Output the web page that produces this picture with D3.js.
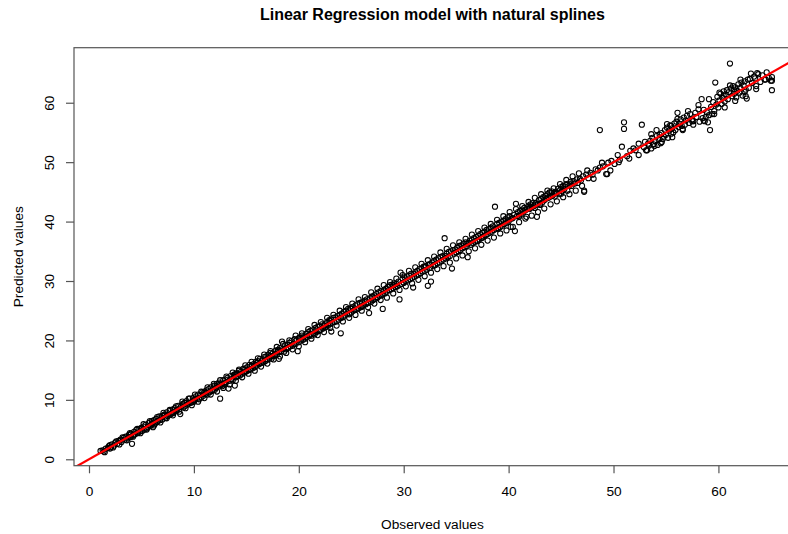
<!DOCTYPE html>
<html>
<head>
<meta charset="utf-8">
<script src="https://cdn.jsdelivr.net/npm/d3@7"></script>
<style>
  body { margin: 0; background: #ffffff; }
  text { font-family: "Liberation Sans", Arial, Helvetica, sans-serif; fill: #000; }
</style>
</head>
<body>
<div id="chart"></div>
<script>
var observed = [
  1.1, 1.3, 1.4, 1.6, 1.8, 1.9, 2.1, 2.2, 2.4, 2.5,
  2.7, 2.8, 3.0, 3.1, 3.3, 3.4, 3.5, 3.7, 3.8, 3.9,
  4.0, 4.1, 4.2, 4.3, 4.4, 4.5, 4.6, 4.7, 4.8, 4.9,
  5.0, 5.1, 5.2, 5.3, 5.4, 5.5, 5.6, 5.7, 5.8, 5.9,
  6.0, 6.1, 6.1, 6.2, 6.3, 6.4, 6.5, 6.6, 6.7, 6.8,
  6.9, 7.0, 7.1, 7.2, 7.3, 7.4, 7.5, 7.6, 7.7, 7.8,
  7.9, 8.0, 8.1, 8.2, 8.3, 8.4, 8.5, 8.6, 8.7, 8.8,
  8.9, 9.0, 9.1, 9.2, 9.3, 9.4, 9.5, 9.6, 9.7, 9.8,
  9.9, 10.0, 10.1, 10.2, 10.3, 10.4, 10.5, 10.6, 10.7, 10.8,
  10.9, 11.0, 11.1, 11.2, 11.3, 11.4, 11.5, 11.6, 11.7, 11.8,
  11.9, 12.0, 12.1, 12.2, 12.3, 12.4, 12.5, 12.6, 12.7, 12.8,
  12.9, 13.0, 13.1, 13.2, 13.3, 13.4, 13.5, 13.6, 13.7, 13.8,
  13.9, 13.9, 14.0, 14.1, 14.2, 14.3, 14.4, 14.5, 14.6, 14.7,
  14.8, 14.9, 15.0, 15.1, 15.2, 15.3, 15.4, 15.5, 15.6, 15.7,
  15.8, 15.9, 16.0, 16.1, 16.2, 16.3, 16.4, 16.5, 16.6, 16.7,
  16.8, 16.9, 17.0, 17.1, 17.2, 17.3, 17.4, 17.5, 17.6, 17.7,
  17.8, 17.9, 18.0, 18.1, 18.1, 18.2, 18.3, 18.4, 18.5, 18.6,
  18.7, 18.8, 18.9, 19.0, 19.1, 19.2, 19.3, 19.4, 19.5, 19.6,
  19.7, 19.8, 19.9, 20.0, 20.0, 20.1, 20.2, 20.3, 20.4, 20.5,
  20.6, 20.7, 20.8, 20.9, 21.0, 21.1, 21.2, 21.3, 21.4, 21.5,
  21.6, 21.7, 21.8, 21.9, 22.0, 22.1, 22.2, 22.3, 22.4, 22.5,
  22.6, 22.7, 22.8, 22.9, 23.0, 23.1, 23.1, 23.2, 23.3, 23.4,
  23.5, 23.6, 23.7, 23.8, 23.9, 24.0, 24.0, 24.1, 24.2, 24.3,
  24.4, 24.5, 24.6, 24.7, 24.8, 24.9, 25.0, 25.1, 25.2, 25.3,
  25.4, 25.5, 25.6, 25.7, 25.8, 25.9, 26.0, 26.1, 26.2, 26.3,
  26.4, 26.5, 26.6, 26.7, 26.8, 26.9, 27.0, 27.1, 27.2, 27.3,
  27.4, 27.5, 27.6, 27.7, 27.8, 27.9, 28.0, 28.1, 28.2, 28.3,
  28.4, 28.5, 28.6, 28.7, 28.8, 28.9, 29.0, 29.1, 29.2, 29.3,
  29.4, 29.5, 29.6, 29.7, 29.8, 29.9, 30.0, 30.1, 30.2, 30.3,
  30.4, 30.5, 30.6, 30.7, 30.8, 30.9, 31.0, 31.1, 31.2, 31.3,
  31.4, 31.5, 31.6, 31.7, 31.8, 31.9, 32.0, 32.1, 32.2, 32.3,
  32.4, 32.5, 32.6, 32.7, 32.8, 32.9, 33.0, 33.1, 33.2, 33.3,
  33.4, 33.5, 33.6, 33.7, 33.8, 33.9, 34.0, 34.1, 34.2, 34.3,
  34.4, 34.5, 34.6, 34.7, 34.8, 34.9, 35.0, 35.1, 35.2, 35.3,
  35.4, 35.5, 35.6, 35.7, 35.8, 35.9, 36.0, 36.1, 36.2, 36.3,
  36.4, 36.5, 36.6, 36.7, 36.8, 36.9, 37.0, 37.1, 37.2, 37.3,
  37.4, 37.5, 37.6, 37.7, 37.8, 37.9, 38.0, 38.1, 38.2, 38.3,
  38.4, 38.5, 38.6, 38.7, 38.8, 38.9, 39.0, 39.1, 39.2, 39.3,
  39.4, 39.5, 39.6, 39.7, 39.8, 39.9, 40.0, 40.1, 40.2, 40.3,
  40.4, 40.5, 40.6, 40.7, 40.8, 40.9, 41.0, 41.1, 41.2, 41.3,
  41.4, 41.5, 41.6, 41.7, 41.8, 41.9, 42.0, 42.1, 42.2, 42.3,
  42.4, 42.5, 42.6, 42.7, 42.8, 42.9, 43.0, 43.1, 43.2, 43.3,
  43.4, 43.5, 43.6, 43.7, 43.8, 43.9, 44.0, 44.1, 44.2, 44.3,
  44.4, 44.5, 44.6, 44.7, 44.8, 44.9, 45.0, 45.1, 45.2, 45.3,
  45.4, 45.5, 45.6, 45.8, 45.9, 46.0, 46.2, 46.3, 46.5, 46.6,
  46.8, 46.9, 47.1, 47.2, 47.2, 47.4, 47.6, 47.8, 48.0, 48.3,
  48.5, 48.7, 48.7, 49.0, 49.3, 49.4, 49.5, 49.8, 50.1, 50.4,
  50.6, 50.8, 51.0, 51.0, 51.3, 51.6, 51.9, 52.1, 52.4, 52.7,
  52.9, 53.0, 53.2, 53.3, 53.4, 53.5, 53.6, 53.7, 53.8, 53.9,
  54.0, 54.1, 54.2, 54.3, 54.4, 54.5, 54.6, 54.7, 54.8, 54.9,
  55.0, 55.1, 55.2, 55.3, 55.4, 55.5, 55.6, 55.7, 55.8, 55.9,
  56.0, 56.1, 56.2, 56.3, 56.4, 56.5, 56.6, 56.7, 56.8, 56.9,
  57.0, 57.2, 57.3, 57.5, 57.6, 57.8, 57.9, 58.1, 58.2, 58.4,
  58.5, 58.6, 58.7, 58.8, 58.9, 59.0, 59.1, 59.2, 59.3, 59.4,
  59.5, 59.6, 59.7, 59.8, 59.9, 60.0, 60.1, 60.2, 60.3, 60.4,
  60.5, 60.6, 60.7, 60.8, 60.9, 61.0, 61.1, 61.2, 61.3, 61.4,
  61.5, 61.6, 61.7, 61.8, 61.9, 62.0, 62.1, 62.2, 62.3, 62.4,
  62.5, 62.6, 62.7, 62.8, 62.9, 63.0, 63.2, 63.4, 63.6, 63.7,
  63.8, 64.0, 64.2, 64.4, 64.6, 64.8, 65.0, 65.1, 65.1, 65.1,
  1.5, 2.0, 2.3, 2.6, 2.9, 3.2, 3.6, 3.9, 4.2, 4.6,
  4.9, 5.2, 5.5, 5.8, 6.2, 6.5, 6.8, 7.1, 7.4, 7.7,
  8.0, 8.3, 8.6, 8.9, 9.2, 9.5, 9.8, 10.1, 10.4, 10.7,
  11.0, 11.3, 11.6, 11.9, 12.2, 12.5, 12.8, 13.1, 13.4, 13.7,
  14.0, 14.3, 14.6, 14.9, 15.2, 15.5, 15.8, 16.1, 16.4, 16.7,
  17.0, 17.3, 17.6, 17.9, 18.2, 18.5, 18.8, 19.1, 19.4, 19.7,
  20.0, 20.3, 20.6, 20.9, 21.2, 21.5, 21.8, 22.1, 22.4, 22.7,
  23.0, 23.3, 23.6, 23.9, 24.2, 24.5, 24.8, 25.1, 25.4, 25.7,
  26.0, 26.3, 26.6, 26.9, 27.2, 27.5, 27.8, 28.1, 28.4, 28.7,
  29.0, 29.3, 29.6, 29.9, 30.2, 30.5, 30.8, 31.1, 31.4, 31.7,
  32.0, 32.3, 32.6, 32.9, 33.2, 33.5, 33.8, 34.1, 34.4, 34.7,
  35.0, 35.3, 35.6, 35.9, 36.2, 36.5, 36.8, 37.1, 37.4, 37.7,
  38.0, 38.3, 38.6, 38.9, 39.2, 39.5, 39.8, 40.1, 40.4, 40.7,
  41.0, 41.3, 41.6, 41.9, 42.2, 42.5, 42.8, 43.1, 43.4, 43.7,
  44.0, 44.3, 44.6, 44.9, 45.2, 45.5, 45.8, 46.1, 46.4, 46.7,
  47.0, 47.5, 48.1, 48.9, 49.7, 50.5, 51.5, 52.4, 53.1, 53.6,
  54.1, 54.6, 55.1, 55.6, 56.1, 56.6, 57.1, 57.6, 58.1, 58.6,
  59.1, 59.6, 60.1, 60.6, 61.1, 61.6, 62.1, 62.6, 63.1, 63.6,
  2.0, 3.0, 4.0, 5.0, 6.0, 7.0, 8.0, 9.0, 10.0, 11.0,
  12.0, 13.0, 14.0, 15.0, 16.0, 17.0, 18.0, 19.0, 20.0, 21.0,
  22.0, 23.0, 24.0, 25.0, 26.0, 27.0, 28.0, 29.0, 30.0, 31.0,
  32.0, 33.0, 34.0, 35.0, 36.0, 37.0, 38.0, 39.0, 40.0, 41.0,
  42.0, 43.0, 44.0, 45.0, 46.0, 12.5, 17.5, 22.5, 27.5, 32.5,
  37.5, 42.5, 44.5, 55.5, 57.5, 60.5, 61.5, 62.5, 63.5, 64.5
];

var predicted = [
  1.4, 1.5, 1.3, 1.8, 1.9, 2.2, 2.0, 2.5, 2.3, 2.8,
  2.6, 3.1, 3.2, 2.9, 3.6, 3.3, 3.8, 3.5, 4.1, 3.7,
  4.3, 2.6, 4.0, 4.6, 4.2, 4.9, 4.4, 4.5, 5.1, 4.7,
  5.3, 4.8, 5.5, 5.0, 5.8, 5.2, 5.4, 6.1, 5.6, 5.7,
  6.4, 5.4, 6.1, 6.6, 6.0, 6.8, 6.3, 6.5, 7.2, 6.6,
  7.1, 6.7, 7.4, 7.5, 7.0, 7.9, 7.3, 7.4, 8.1, 7.6,
  7.7, 8.4, 7.9, 8.6, 8.1, 8.3, 9.0, 8.4, 7.6, 8.9,
  9.3, 8.7, 9.5, 9.0, 9.8, 9.2, 9.4, 10.2, 9.5, 9.6,
  10.3, 9.7, 10.0, 10.6, 10.2, 10.9, 10.1, 10.8, 10.4, 11.3,
  10.7, 11.4, 11.0, 11.6, 10.9, 11.8, 11.3, 12.1, 11.5, 11.6,
  12.4, 11.7, 12.0, 12.7, 12.2, 12.9, 10.2, 12.5, 12.3, 13.3,
  12.6, 13.4, 13.0, 13.7, 11.9, 13.2, 14.0, 13.5, 13.3, 14.2,
  12.4, 14.3, 13.8, 14.5, 14.0, 14.9, 14.1, 14.7, 14.4, 15.2,
  14.6, 15.3, 14.8, 15.5, 15.0, 15.9, 15.1, 15.7, 15.3, 16.0,
  15.5, 16.4, 15.8, 16.5, 16.0, 16.9, 16.2, 16.6, 16.3, 17.2,
  16.5, 17.3, 16.8, 17.6, 17.1, 17.9, 16.9, 17.8, 17.4, 17.5,
  18.3, 17.6, 18.4, 16.9, 18.0, 18.7, 18.2, 19.8, 18.6, 18.1,
  19.2, 18.5, 19.3, 18.8, 19.6, 19.0, 19.9, 19.1, 19.4, 20.2,
  19.4, 20.1, 18.2, 20.4, 19.7, 20.5, 20.0, 20.8, 20.1, 20.7,
  20.3, 21.1, 20.6, 21.4, 20.9, 21.6, 20.8, 21.7, 21.2, 21.0,
  22.1, 21.4, 22.3, 21.6, 22.4, 21.8, 22.7, 22.0, 22.5, 22.2,
  22.3, 23.1, 22.5, 23.4, 22.8, 21.5, 23.5, 23.0, 23.8, 23.1,
  23.9, 23.2, 24.1, 23.5, 24.3, 21.2, 23.8, 24.5, 23.9, 24.8,
  24.2, 25.0, 24.5, 25.3, 24.4, 25.4, 24.7, 25.6, 25.0, 25.1,
  25.9, 25.2, 26.1, 25.4, 26.3, 25.6, 26.4, 25.8, 26.0, 26.7,
  26.1, 26.9, 26.3, 24.6, 27.1, 26.5, 27.4, 26.8, 27.6, 27.0,
  27.8, 27.2, 28.1, 27.5, 28.3, 27.6, 25.3, 28.4, 27.9, 28.7,
  28.2, 29.0, 28.5, 29.3, 28.6, 29.4, 28.8, 29.6, 29.0, 29.5,
  29.1, 29.9, 26.9, 31.4, 29.5, 30.4, 29.7, 30.6, 30.0, 30.8,
  30.1, 30.9, 30.3, 31.2, 30.5, 28.9, 30.7, 31.5, 30.9, 31.7,
  31.1, 32.0, 31.3, 32.1, 31.6, 32.4, 31.7, 32.5, 31.9, 29.2,
  32.8, 32.2, 29.9, 33.1, 32.5, 33.4, 32.7, 33.6, 33.0, 33.8,
  33.1, 34.0, 33.4, 34.2, 33.6, 37.2, 33.8, 34.6, 34.0, 34.9,
  34.2, 35.0, 32.1, 35.2, 34.6, 35.3, 34.8, 35.6, 35.0, 35.9,
  35.2, 36.0, 35.5, 36.3, 35.7, 36.5, 35.9, 34.0, 36.4, 36.8,
  36.1, 36.9, 36.4, 37.2, 36.6, 37.4, 36.8, 37.6, 37.0, 37.9,
  37.2, 38.1, 37.5, 38.3, 37.7, 38.6, 37.9, 38.7, 38.1, 39.0,
  38.3, 39.2, 38.6, 42.5, 38.8, 39.6, 38.9, 39.8, 39.1, 40.0,
  39.3, 40.1, 39.6, 40.4, 39.8, 40.7, 40.0, 40.9, 39.1, 40.5,
  40.6, 41.1, 38.4, 43.0, 40.9, 41.6, 41.0, 41.8, 41.3, 42.0,
  41.7, 42.3, 41.9, 40.8, 42.2, 42.7, 42.1, 42.9, 42.4, 43.1,
  42.6, 42.3, 43.1, 40.8, 43.0, 43.6, 42.9, 43.8, 43.2, 44.1,
  43.6, 44.3, 43.9, 44.6, 44.0, 44.9, 44.2, 45.1, 44.4, 44.7,
  44.2, 45.0, 44.8, 45.5, 44.6, 45.3, 45.8, 45.1, 46.0, 45.4,
  45.9, 46.3, 45.2, 46.1, 46.7, 46.0, 46.8, 46.4, 47.1, 46.5,
  47.2, 46.9, 47.6, 45.2, 45.0, 47.9, 47.3, 48.2, 47.9, 48.8,
  48.6, 55.4, 49.1, 49.3, 48.0, 48.0, 49.9, 50.2, 49.7, 51.2,
  50.4, 52.6, 56.7, 55.6, 51.0, 51.9, 52.3, 52.0, 53.1, 56.3,
  52.5, 53.4, 52.0, 53.1, 52.8, 53.6, 52.3, 54.1, 53.0, 52.7,
  53.5, 54.4, 52.9, 53.8, 54.6, 53.2, 54.9, 53.9, 54.3, 55.4,
  54.6, 55.8, 54.1, 55.3, 56.2, 54.8, 55.7, 55.0, 56.5, 55.4,
  56.8, 58.3, 55.9, 56.4, 57.2, 56.1, 55.6, 57.5, 56.3, 57.0,
  57.8, 56.6, 58.1, 57.2, 56.9, 58.3, 57.6, 58.9, 56.8, 60.6,
  57.4, 58.8, 56.9, 57.6, 58.4, 56.7, 57.9, 55.4, 59.3, 58.1,
  60.1, 58.6, 63.4, 59.7, 61.0, 59.2, 60.4, 61.5, 59.8, 60.8,
  61.9, 60.2, 61.4, 62.1, 60.6, 61.8, 66.6, 62.4, 61.1, 62.8,
  61.5, 62.6, 60.9, 62.0, 63.1, 61.7, 62.5, 63.4, 61.2, 62.9,
  63.6, 62.2, 60.7, 63.9, 62.5, 64.0, 63.3, 64.4, 62.8, 65.0,
  64.8, 63.5, 64.6, 63.9, 65.1, 64.2, 63.7, 62.1, 64.3, 63.7,
  1.2, 2.4, 2.0, 3.0, 2.5, 3.7, 3.2, 4.4, 3.8, 5.1,
  4.4, 5.9, 5.0, 6.4, 5.7, 7.1, 6.2, 7.8, 6.9, 8.3,
  7.4, 8.9, 8.0, 9.7, 8.6, 10.2, 9.1, 10.9, 9.7, 11.4,
  10.3, 12.1, 10.9, 12.7, 11.4, 13.3, 12.0, 13.9, 12.6, 14.6,
  13.2, 15.1, 13.8, 15.8, 14.4, 16.4, 14.9, 17.0, 15.6, 17.6,
  16.1, 18.2, 16.8, 18.9, 17.3, 19.4, 17.9, 20.0, 18.5, 20.8,
  19.0, 21.2, 19.7, 21.9, 20.3, 22.6, 20.9, 23.1, 21.4, 23.8,
  22.1, 24.3, 22.5, 25.0, 23.2, 25.6, 23.8, 26.2, 24.3, 26.9,
  25.0, 27.3, 25.6, 28.1, 26.2, 28.7, 26.8, 29.3, 27.2, 29.8,
  27.9, 30.4, 28.5, 31.0, 29.1, 31.7, 29.6, 32.3, 30.2, 32.9,
  30.8, 33.5, 31.4, 34.1, 32.0, 34.8, 32.5, 35.4, 33.1, 36.0,
  33.8, 36.5, 34.3, 37.1, 35.0, 37.8, 35.5, 38.4, 36.1, 39.0,
  36.8, 39.6, 37.3, 40.3, 38.0, 40.9, 38.5, 41.6, 39.1, 42.1,
  39.9, 42.6, 40.5, 43.3, 41.0, 44.0, 41.6, 44.6, 42.2, 45.2,
  42.9, 45.6, 43.4, 46.3, 44.1, 47.0, 44.6, 47.6, 45.2, 48.1,
  46.0, 48.6, 47.2, 49.9, 48.6, 50.0, 50.6, 51.2, 52.0, 54.7,
  55.4, 53.4, 56.4, 54.2, 57.3, 55.4, 58.6, 56.3, 59.6, 57.0,
  60.6, 58.1, 61.7, 59.2, 62.9, 60.3, 63.9, 61.1, 64.9, 62.3,
  1.8, 3.3, 3.8, 5.2, 5.9, 7.3, 7.8, 9.2, 9.9, 11.2,
  12.3, 12.8, 14.3, 14.8, 16.2, 16.8, 18.3, 18.8, 20.3, 20.8,
  21.7, 23.3, 23.8, 25.3, 25.7, 27.2, 27.8, 29.3, 29.7, 31.2,
  32.3, 32.7, 34.2, 34.8, 36.3, 36.7, 38.3, 38.8, 40.3, 40.8,
  42.3, 42.8, 44.3, 44.7, 46.4, 12.7, 17.3, 22.7, 27.3, 32.8,
  37.3, 42.8, 44.8, 56.1, 56.9, 61.2, 62.2, 61.8, 64.1, 63.9
];

var xTicks = [0, 10, 20, 30, 40, 50, 60];
var yTicks = [0, 10, 20, 30, 40, 50, 60];

var chartTitle = "Linear Regression model with natural splines";
var xTitle = "Observed values";
var yTitle = "Predicted values";

var width = 788,
  height = 534;

// plot region (R's base-graphics box)
var plot = { left: 74, top: 47.7, right: 790.8, bottom: 465.7 };

var points = observed.map(function (d, i) {
  return { obs: d, pred: predicted[i] };
});

var x = d3.scaleLinear().domain([-1.43, 66.9]).range([plot.left, plot.right]);
var y = d3.scaleLinear().domain([-1.08, 69.26]).range([plot.bottom, plot.top]);

var svg = d3
  .select("#chart")
  .append("svg")
  .attr("width", width)
  .attr("height", height)
  .style("background", "#fff");

svg
  .append("defs")
  .append("clipPath")
  .attr("id", "plotClip")
  .append("rect")
  .attr("x", plot.left)
  .attr("y", plot.top)
  .attr("width", plot.right - plot.left)
  .attr("height", plot.bottom - plot.top);

// Points (open circles, pch = 1)
svg
  .append("g")
  .selectAll("circle")
  .data(points)
  .join("circle")
  .attr("cx", (d) => x(d.obs))
  .attr("cy", (d) => y(d.pred))
  .attr("r", 2.6)
  .attr("fill", "none")
  .attr("stroke", "#000")
  .attr("stroke-width", 1.05);

// y = x reference line
var lineDomain = x.domain();
svg
  .append("line")
  .attr("clip-path", "url(#plotClip)")
  .attr("x1", x(lineDomain[0]))
  .attr("y1", y(lineDomain[0]))
  .attr("x2", x(lineDomain[1]))
  .attr("y2", y(lineDomain[1]))
  .attr("stroke", "#ff0000")
  .attr("stroke-width", 2.2);

// Box around the plot
svg
  .append("rect")
  .attr("x", plot.left)
  .attr("y", plot.top)
  .attr("width", plot.right - plot.left)
  .attr("height", plot.bottom - plot.top)
  .attr("fill", "none")
  .attr("stroke", "#555")
  .attr("stroke-width", 1.2);

// Axes
var xAxis = svg
  .append("g")
  .attr("transform", "translate(0," + plot.bottom + ")")
  .call(d3.axisBottom(x).tickValues(xTicks).tickSize(7.6).tickFormat(d3.format("d")));

var yAxis = svg
  .append("g")
  .attr("transform", "translate(" + plot.left + ",0)")
  .call(d3.axisLeft(y).tickValues(yTicks).tickSize(8).tickFormat(d3.format("d")));

[xAxis, yAxis].forEach(function (g) {
  g.select(".domain").remove();
  g.selectAll(".tick line").attr("stroke", "#555").attr("stroke-width", 1.2);
  g.selectAll(".tick text")
    .style("font-family", '"Liberation Sans", Arial, sans-serif')
    .style("font-size", "13.7px")
    .attr("fill", "#000");
});

xAxis.selectAll(".tick text").attr("y", 26).attr("dy", "0.35em");

// y tick labels are rotated, like R's las = 0
yAxis
  .selectAll(".tick text")
  .attr("x", null)
  .attr("text-anchor", "middle")
  .attr("transform", "translate(-24.8,0) rotate(-90)")
  .attr("dy", "0.35em");

// Titles
svg
  .append("text")
  .attr("x", (plot.left + plot.right) / 2)
  .attr("y", 19.5)
  .attr("text-anchor", "middle")
  .style("font-weight", "bold")
  .style("font-size", "16px")
  .text(chartTitle);

svg
  .append("text")
  .attr("x", (plot.left + plot.right) / 2)
  .attr("y", 524)
  .attr("dy", "0.35em")
  .attr("text-anchor", "middle")
  .style("font-size", "13.7px")
  .text(xTitle);

svg
  .append("text")
  .attr("transform", "translate(18," + (plot.top + plot.bottom) / 2 + ") rotate(-90)")
  .attr("dy", "0.35em")
  .attr("text-anchor", "middle")
  .style("font-size", "13.7px")
  .text(yTitle);
</script>
</body>
</html>
